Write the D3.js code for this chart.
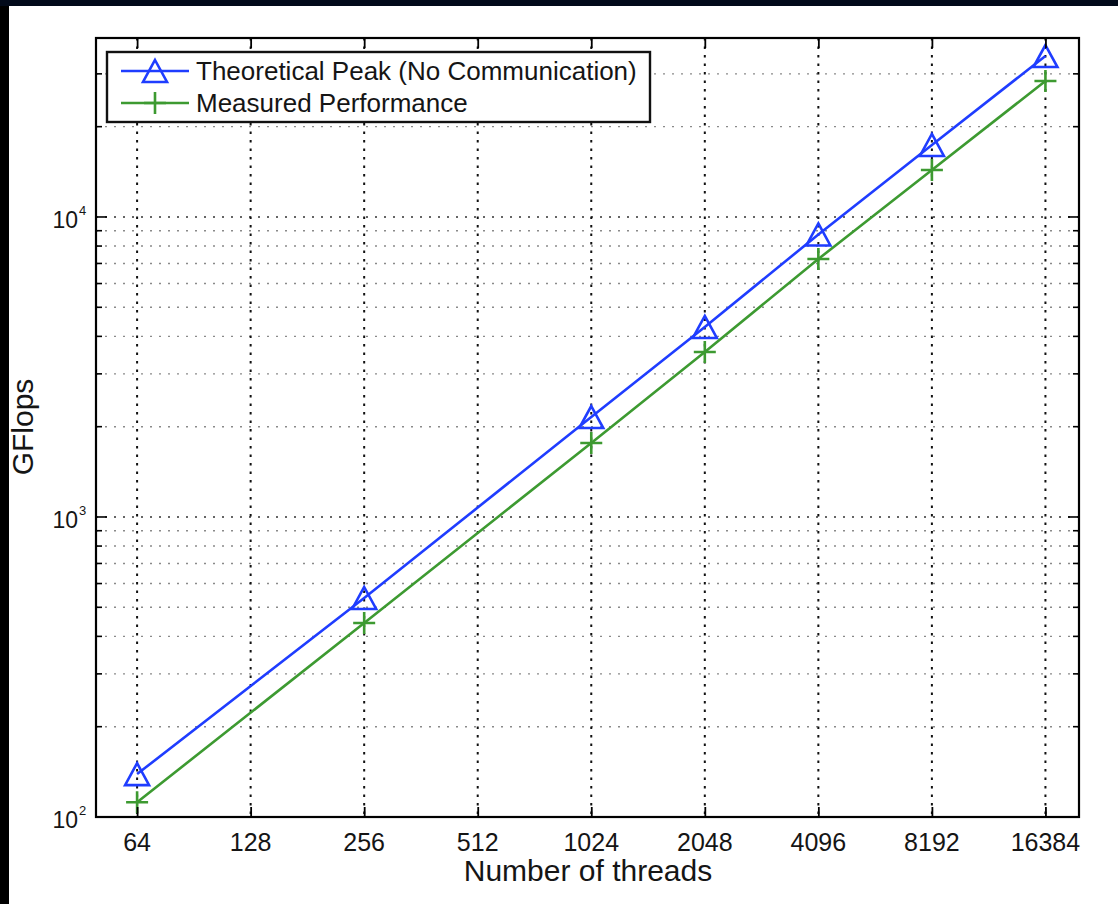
<!DOCTYPE html>
<html>
<head>
<meta charset="utf-8">
<script src="https://cdn.jsdelivr.net/npm/d3@7"></script>
<style>
    body { margin: 0; background: #000; }
    svg { display: block; }
    text { font-family: 'Liberation Sans', Arial, sans-serif; fill: #151515; }
</style>
</head>
<body>
<div id="chart"></div>
<script>
// values
const threads = [64, 256, 1024, 2048, 4096, 8192, 16384];
const peakGflops = [139, 537, 2154, 4300, 8743, 17380, 34400];
const measuredGflops = [112, 443, 1765, 3548, 7244, 14350, 28400];
const xTicks = [64, 128, 256, 512, 1024, 2048, 4096, 8192, 16384];
const xLimits = [49.8, 20110];
const yLimits = [100, 39500];
const seriesNames = ['Theoretical Peak (No Communication)', 'Measured Performance'];

class PerfChart {

    constructor(_config) {
        this.config = {
            parentElement: _config.parentElement,
            containerWidth: _config.width,
            containerHeight: _config.height,
            left: 96, right: 1079, top: 38, bottom: 817
        }
        this.series = [
            {name: seriesNames[0], values: peakGflops, color: '#1f3dff', marker: 'triangle'},
            {name: seriesNames[1], values: measuredGflops, color: '#3d9a31', marker: 'plus'}
        ];
        this.initVis();
    }

    initVis() {
        let vis = this;
        let c = vis.config;
        vis.svg = d3.select(c.parentElement)
            .append('svg')
            .attr('width', c.containerWidth)
            .attr('height', c.containerHeight);
        // dark slide background + white figure
        vis.svg.append('rect')
            .attr('width', c.containerWidth)
            .attr('height', c.containerHeight)
            .attr('fill', '#000');
        vis.svg.append('rect')
            .attr('x', 0).attr('y', 0)
            .attr('width', c.containerWidth).attr('height', 6)
            .attr('fill', '#020a1a');
        vis.svg.append('rect')
            .attr('x', 9).attr('y', 6)
            .attr('width', c.containerWidth - 9)
            .attr('height', c.containerHeight - 6)
            .attr('fill', '#fff');

        vis.x = d3.scaleLog().base(2)
            .domain(xLimits)
            .range([c.left, c.right]);
        vis.y = d3.scaleLog()
            .domain(yLimits)
            .range([c.bottom, c.top]);

        vis.yTicks = vis.y.ticks();
        vis.isMajor = (v) => Math.abs(Math.log10(v) - Math.round(Math.log10(v))) < 1e-9;

        vis.renderGrid();
        vis.renderSeries();
        vis.renderAxes();
        vis.renderLegend();
    }

    renderGrid() {
        let vis = this;
        let c = vis.config;
        vis.svg.append('g')
            .selectAll('line')
            .data(vis.yTicks)
            .join('line')
            .attr('x1', c.left)
            .attr('x2', c.right)
            .attr('y1', (d) => vis.y(d))
            .attr('y2', (d) => vis.y(d))
            .attr('stroke', (d) => vis.isMajor(d) ? '#333' : '#8a8a8a')
            .attr('stroke-width', 1.4)
            .style('stroke-dasharray', '2, 7');
        vis.svg.append('g')
            .selectAll('line')
            .data(xTicks)
            .join('line')
            .attr('x1', (d) => vis.x(d))
            .attr('x2', (d) => vis.x(d))
            .attr('y1', c.top)
            .attr('y2', c.bottom)
            .attr('stroke', '#111')
            .attr('stroke-width', 2)
            .style('stroke-dasharray', '2.5, 6');
    }

    renderSeries() {
        let vis = this;
        let line = d3.line()
            .x((d) => vis.x(d[0]))
            .y((d) => vis.y(d[1]));
        vis.series.forEach((s) => {
            let pts = threads.map((t, i) => [t, s.values[i]]);
            vis.svg.append('path')
                .datum(pts)
                .attr('d', line)
                .attr('fill', 'none')
                .attr('stroke', s.color)
                .attr('stroke-width', 2.6);
            vis.svg.append('g')
                .selectAll('path')
                .data(pts)
                .join('path')
                .attr('transform', (d) => `translate(${vis.x(d[0])},${vis.y(d[1])})`)
                .attr('d', vis.markerPath(s.marker))
                .attr('fill', 'none')
                .attr('stroke', s.color)
                .attr('stroke-width', 2.6);
        });
    }

    markerPath(type) {
        if (type == 'triangle') {
            return 'M0,-11L12,11L-12,11Z';
        }
        return 'M-11,0H11M0,-11V11';
    }

    renderAxes() {
        let vis = this;
        let c = vis.config;
        // inside ticks on all four sides
        vis.svg.append('g')
            .attr('transform', `translate(0,${c.bottom})`)
            .call(d3.axisBottom(vis.x).tickValues(xTicks).tickSizeInner(-10).tickSizeOuter(0).tickFormat(''))
            .call((g) => g.select('.domain').remove());
        vis.svg.append('g')
            .attr('transform', `translate(0,${c.top})`)
            .call(d3.axisTop(vis.x).tickValues(xTicks).tickSizeInner(-10).tickSizeOuter(0).tickFormat(''))
            .call((g) => g.select('.domain').remove());
        ['left', 'right'].forEach((side) => {
            let x0 = side == 'left' ? c.left : c.right;
            let dir = side == 'left' ? 1 : -1;
            vis.svg.append('g')
                .selectAll('line')
                .data(vis.yTicks)
                .join('line')
                .attr('x1', x0)
                .attr('x2', (d) => x0 + dir * (vis.isMajor(d) ? 11 : 6))
                .attr('y1', (d) => vis.y(d))
                .attr('y2', (d) => vis.y(d))
                .attr('stroke', '#000')
                .attr('stroke-width', 1.6);
        });
        vis.svg.selectAll('.tick line')
            .attr('stroke', '#000')
            .attr('stroke-width', 1.8);
        vis.svg.append('rect')
            .attr('x', c.left)
            .attr('y', c.top)
            .attr('width', c.right - c.left)
            .attr('height', c.bottom - c.top)
            .attr('fill', 'none')
            .attr('stroke', '#000')
            .attr('stroke-width', 2.2);

        // x tick labels
        vis.svg.append('g')
            .selectAll('text')
            .data(xTicks)
            .join('text')
            .attr('x', (d) => vis.x(d))
            .attr('y', 851)
            .text((d) => d)
            .style('font-size', '25px')
            .style('text-anchor', 'middle');

        // y tick labels 10^n
        let majors = vis.yTicks.filter(vis.isMajor);
        let yl = vis.svg.append('g')
            .selectAll('g')
            .data(majors)
            .join('g');
        yl.append('text')
            .attr('x', 78)
            .attr('y', (d) => vis.y(d) + 11)
            .text('10')
            .style('font-size', '23px')
            .style('text-anchor', 'end');
        yl.append('text')
            .attr('x', 79)
            .attr('y', (d) => vis.y(d) - 2)
            .text((d) => Math.round(Math.log10(d)))
            .style('font-size', '13px')
            .style('text-anchor', 'start');

        vis.svg.append('text')
            .attr('x', 588)
            .attr('y', 881)
            .text('Number of threads')
            .style('font-size', '30px')
            .style('text-anchor', 'middle');
        vis.svg.append('text')
            .attr('transform', 'translate(33,427) rotate(-90)')
            .text('GFlops')
            .style('font-size', '30px')
            .style('text-anchor', 'middle');
    }

    renderLegend() {
        let vis = this;
        let box = vis.svg.append('g');
        box.append('rect')
            .attr('x', 107)
            .attr('y', 52)
            .attr('width', 543)
            .attr('height', 70)
            .attr('fill', '#fff')
            .attr('stroke', '#111')
            .attr('stroke-width', 2.4);
        let item = box.selectAll('.legend-item')
            .data(vis.series)
            .join('g')
            .attr('class', 'legend-item')
            .attr('transform', (d, i) => `translate(0,${71 + i * 32})`);
        item.append('line')
            .attr('x1', 121)
            .attr('x2', 189)
            .attr('stroke', (d) => d.color)
            .attr('stroke-width', 2.6);
        item.append('path')
            .attr('transform', 'translate(155,0)')
            .attr('d', (d) => vis.markerPath(d.marker))
            .attr('fill', 'none')
            .attr('stroke', (d) => d.color)
            .attr('stroke-width', 2.6);
        item.append('text')
            .attr('x', 196)
            .attr('y', 9)
            .text((d) => d.name)
            .style('font-size', '26px');
    }
}

new PerfChart({parentElement: '#chart', width: 1118, height: 904});
</script>
</body>
</html>
